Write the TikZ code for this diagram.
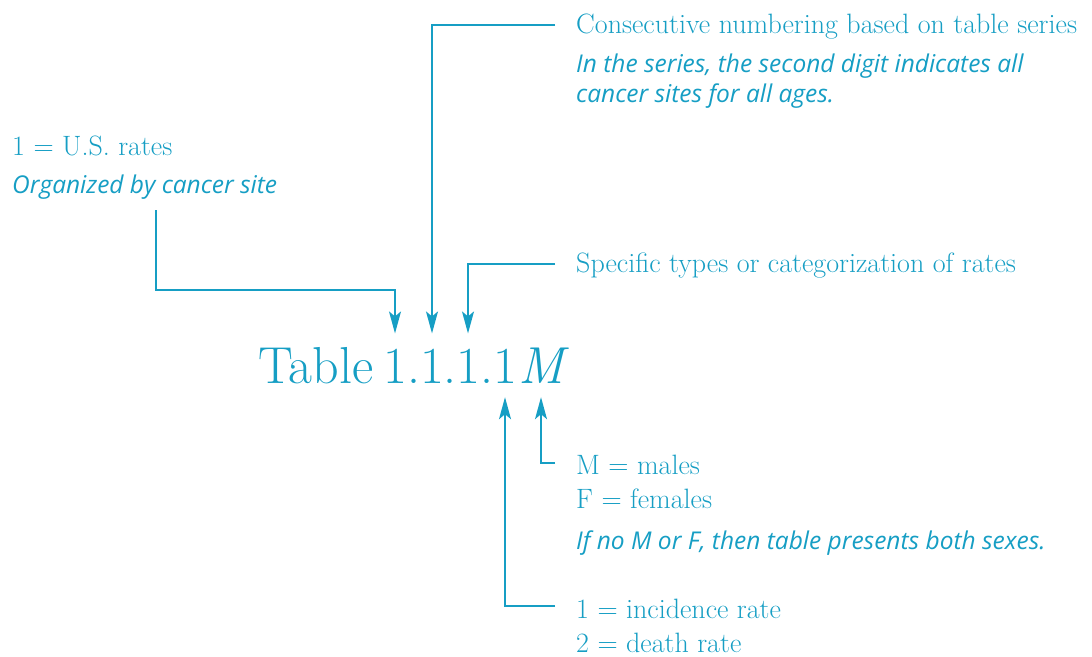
\documentclass[tikz,border=0pt]{standalone}
\usepackage{fontspec}
\newfontfamily\notefont{Open Sans}
\usetikzlibrary{arrows.meta}
\definecolor{seerblue}{RGB}{22,158,196}
\tikzset{
  title/.style={inner sep=0pt, font=\fontsize{52}{60}\selectfont},
  label/.style={inner sep=0pt, anchor=base west, font=\fontsize{28}{32}\selectfont},
  note/.style={inner sep=0pt, anchor=base west, font=\notefont\itshape\fontsize{24.5}{28}\selectfont},
  link/.style={line width=1.5pt, -{Stealth[length=22pt,width=12pt,inset=5pt]}},
}
\begin{document}
\begin{tikzpicture}[x=1pt, y=-1pt, seerblue, text=seerblue]
  \useasboundingbox (0,0) rectangle (1092,656);
  % table number, one node per piece
  \draw
    (258,383) node[title, anchor=base west] (tbl){Table}
    (395,383) node[title, anchor=base] (d1){1}
    (413.5,383) node[title, anchor=base] (p1){.}
    (432,383) node[title, anchor=base] (d2){1}
    (450,383) node[title, anchor=base] (p2){.}
    (468,383) node[title, anchor=base] (d3){1}
    (486.5,383) node[title, anchor=base] (p3){.}
    (505,383) node[title, anchor=base] (d4){1}
    (541,383) node[title, anchor=base] (sex){\itshape M};
  % explanations
  \draw
    (576,33) node[label] (cons){Consecutive numbering based on table series}
    (576,72) node[note] (series1){In the series, the second digit indicates all}
    (576,102) node[note] (series2){cancer sites for all ages.}
    (12,155) node[label] (us){1 = U.S. rates}
    (12,193) node[note] (org){Organized by cancer site}
    (576,272) node[label] (spec){Specific types or categorization of rates}
    (576,474) node[label] (males){M = males}
    (576,508) node[label] (females){F = females}
    (576,549) node[note] (both){If no M or F, then table presents both sexes.}
    (576,618) node[label] (inc){1 = incidence rate}
    (576,652) node[label] (death){2 = death rate};
  \coordinate (orgfoot) at (156,210);
  \begin{scope}[shorten >=15pt]
    \draw[link] (orgfoot) -- ++(0,80) -| (d1.north);
    \draw[link] ([shift={(-21,-8)}]cons.base west) -| (d2.north);
    \draw[link] ([shift={(-21,-8)}]spec.base west) -| (d3.north);
  \end{scope}
  \begin{scope}[shorten >=14pt]
    \draw[link] ([shift={(-21,-11)}]males.base west) -| (sex.south);
    \draw[link] ([shift={(-21,-12)}]inc.base west) -| (d4.south);
  \end{scope}
\end{tikzpicture}
\end{document}
